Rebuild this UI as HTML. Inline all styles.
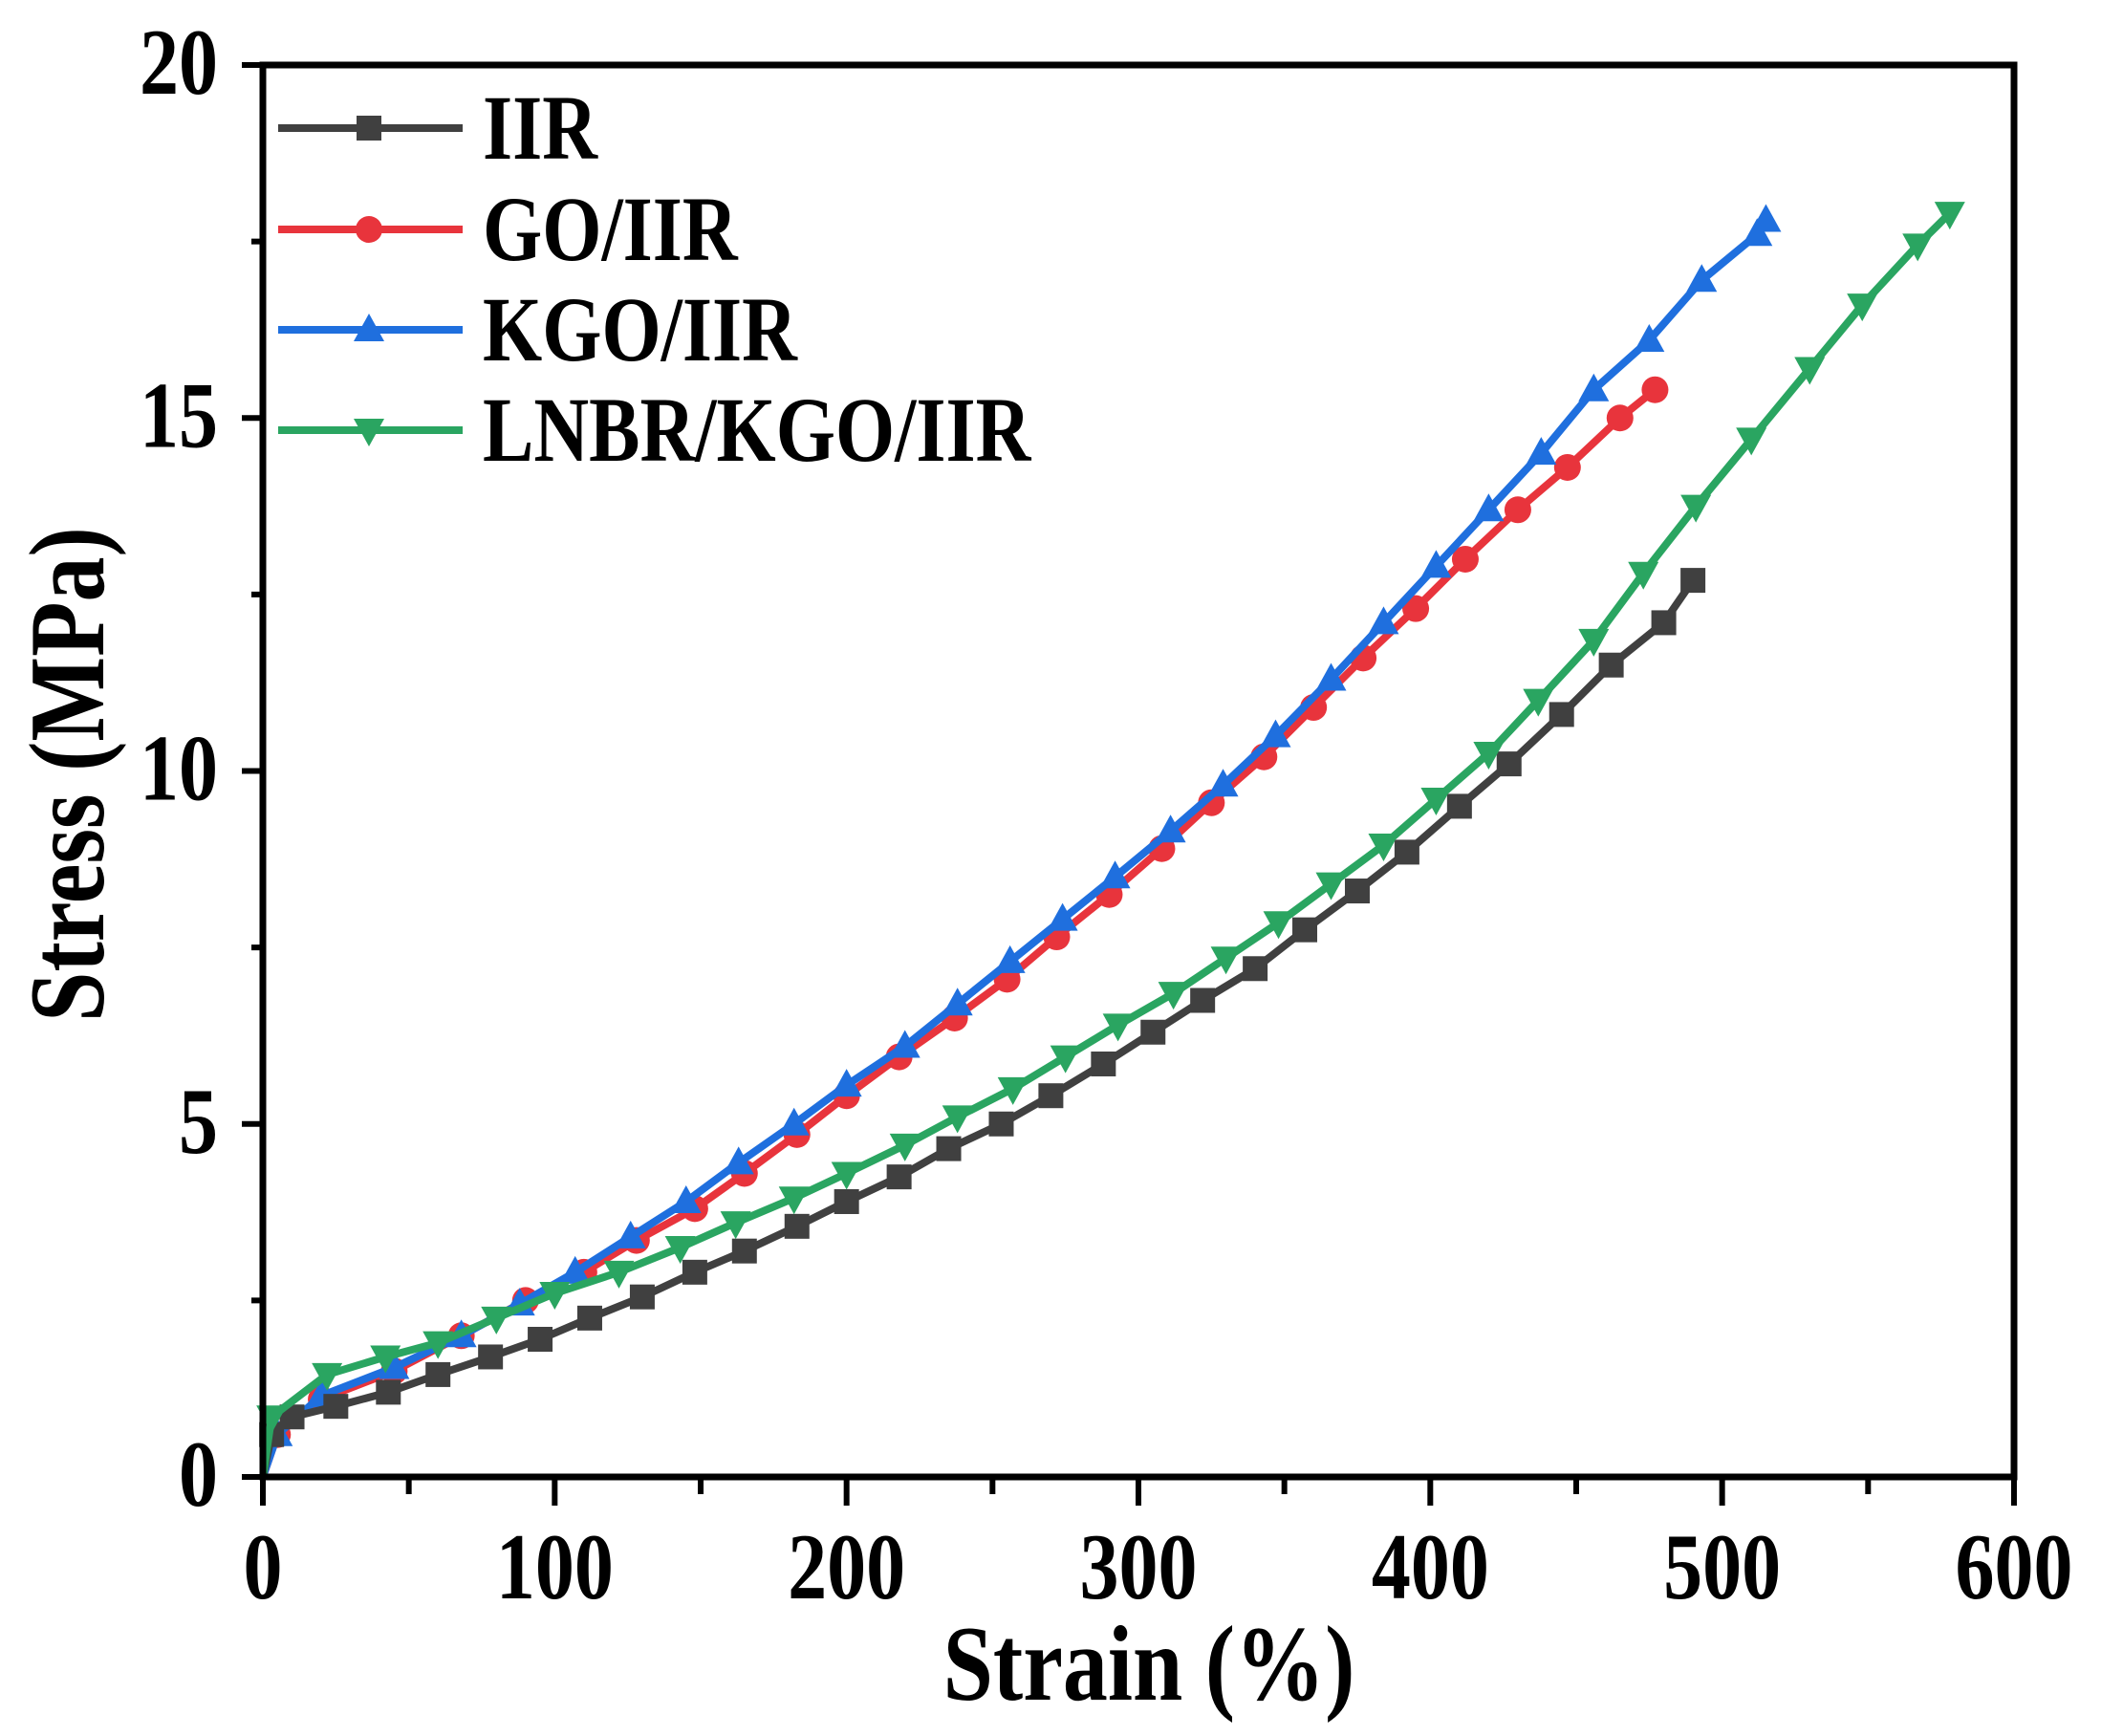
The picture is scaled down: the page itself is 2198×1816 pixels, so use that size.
<!DOCTYPE html>
<html><head><meta charset="utf-8"><style>
html,body{margin:0;padding:0;background:#fff;}
svg{display:block;}
text{font-family:"Liberation Serif",serif;font-weight:bold;fill:#000;}
</style></head><body>
<svg id="s" width="2198" height="1816" viewBox="0 0 2198 1816" xmlns="http://www.w3.org/2000/svg">
<rect width="2198" height="1816" fill="#fff"/>
<g id="plot"></g>
<rect x="275" y="68" width="1832" height="1477" fill="none" stroke="#000" stroke-width="7"/>
<g id="ticks" stroke="#000" stroke-width="6"></g>
<g id="labels"></g>
<g id="legend"></g>
</svg>
<script>
var X=function(v){return 275+v*3.0533;},Y=function(v){return 1545-v*73.85;};
var ns="http://www.w3.org/2000/svg";
function el(t,a,p){var e=document.createElementNS(ns,t);for(var k in a)e.setAttribute(k,a[k]);p.appendChild(e);return e;}
function txt(s,x,y,fs,anchor,p,rot){var t=el('text',{x:0,y:0,'font-size':fs,'text-anchor':anchor,transform:'translate('+x+','+y+')'+(rot?' rotate(-90)':'')+' scale(1,1.2)'},p);t.textContent=s;return t;}
var ticks=document.getElementById('ticks'),lab=document.getElementById('labels');
for(var i=0;i<=12;i++){var x=X(i*50);el('line',{x1:x,x2:x,y1:1545,y2:1545+(i%2?18:30)},ticks);}
for(var i=0;i<=8;i++){var y=Y(i*2.5);el('line',{y1:y,y2:y,x1:275,x2:275-(i%2?12:22)},ticks);}
for(var i=0;i<=6;i++)txt(String(i*100),X(i*100),1672,82,'middle',lab);
for(var i=0;i<=4;i++)txt(String(i*5),228,Y(i*5)+30,82,'end',lab);
txt('Strain (%)',1202,1778,94,'middle',lab);
txt('Stress (MPa)',108,810,94,'middle',lab,true);
var S=[
{c:"#e8343c",m:"c",n:"GO/IIR",d:[[0,0],[5,0.6],[20,1.1],[45,1.5],[68,2.0],[90,2.5],[110,2.9],[128,3.35],[148,3.8],[165,4.3],[183,4.85],[200,5.4],[218,5.95],[237,6.5],[255,7.05],[272,7.65],[290,8.25],[308,8.9],[325,9.55],[343,10.2],[360,10.9],[377,11.6],[395,12.3],[412,13.0],[430,13.7],[447,14.3],[465,15.0],[477,15.4]]},
{c:"#1f6fde",m:"t",n:"KGO/IIR",d:[[0,0],[5,0.6],[20,1.15],[45,1.55],[68,2.0],[88,2.45],[107,2.9],[126,3.4],[145,3.9],[163,4.45],[182,5.0],[200,5.55],[220,6.1],[238,6.7],[256,7.3],[274,7.9],[292,8.5],[311,9.15],[329,9.8],[347,10.5],[366,11.3],[384,12.1],[402,12.9],[420,13.7],[438,14.5],[456,15.4],[475,16.1],[493,16.95],[512,17.6],[515,17.8]]},
{c:"#404040",m:"s",n:"IIR",d:[[0,0],[3,0.6],[10,0.85],[25,1.0],[43,1.2],[60,1.45],[78,1.7],[95,1.95],[112,2.25],[130,2.55],[148,2.9],[165,3.2],[183,3.55],[200,3.9],[218,4.25],[235,4.65],[253,5.0],[270,5.4],[288,5.85],[305,6.3],[322,6.75],[340,7.2],[357,7.75],[375,8.3],[392,8.85],[410,9.5],[427,10.1],[445,10.8],[462,11.5],[480,12.1],[490,12.7]]},
{c:"#2aa561",m:"v",n:"LNBR/KGO/IIR",d:[[0,0],[3,0.85],[22,1.45],[42,1.7],[60,1.9],[80,2.25],[100,2.6],[122,2.9],[143,3.25],[162,3.6],[182,3.95],[200,4.3],[220,4.7],[238,5.1],[257,5.5],[275,5.95],[293,6.4],[312,6.85],[330,7.35],[348,7.85],[366,8.4],[384,8.95],[402,9.6],[420,10.25],[437,11.0],[456,11.85],[473,12.8],[491,13.75],[510,14.7],[530,15.7],[548,16.6],[567,17.45],[578,17.9]]}
];
function mk(m,x,y,c,p){
 if(m=="s")el('rect',{x:x-13,y:y-13,width:26,height:26,fill:c},p);
 else if(m=="c")el('circle',{cx:x,cy:y,r:14,fill:c},p);
 else if(m=="t")el('polygon',{points:(x)+","+(y-17)+" "+(x-16)+","+(y+12)+" "+(x+16)+","+(y+12),fill:c},p);
 else el('polygon',{points:(x)+","+(y+17)+" "+(x-16)+","+(y-12)+" "+(x+16)+","+(y-12),fill:c},p);
}
var plot=document.getElementById('plot');
S.forEach(function(s){
 el('polyline',{points:s.d.map(function(p){return X(p[0])+","+Y(p[1]);}).join(" "),fill:"none",stroke:s.c,"stroke-width":8,"stroke-linejoin":"round"},plot);
 s.d.forEach(function(p,i){if(i>0)mk(s.m,X(p[0]),Y(p[1]),s.c,plot);});
});
var lg=document.getElementById('legend');
var order=[2,0,1,3],ys=[134,240,345,450];
order.forEach(function(k,i){var s=S[k];
 el('line',{x1:291,x2:484,y1:ys[i],y2:ys[i],stroke:s.c,"stroke-width":8},lg);
 mk(s.m,386,ys[i],s.c,lg);
 txt(s.n,505,ys[i]+32,80,'start',lg);});
</script>
</body></html>
